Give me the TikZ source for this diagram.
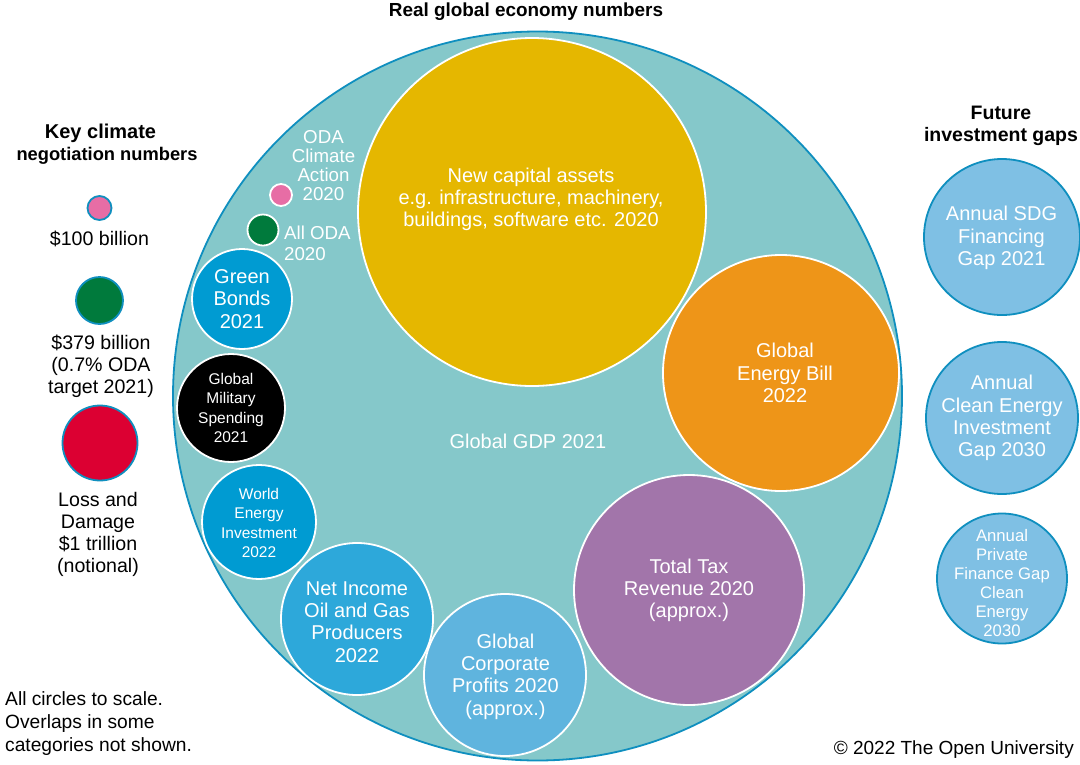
\documentclass[tikz,border=0pt]{standalone}
\usepackage{fontspec}
\setmainfont{Liberation Sans}
\definecolor{rim}{HTML}{0F8FBF}
\definecolor{gdp}{HTML}{85C8CA}
\definecolor{capital}{HTML}{E5B700}
\definecolor{ebill}{HTML}{EE9518}
\definecolor{tax}{HTML}{A275AA}
\definecolor{corp}{HTML}{5FB4DE}
\definecolor{netinc}{HTML}{2DA8DA}
\definecolor{cyanb}{HTML}{009BD2}
\definecolor{gapb}{HTML}{7FC0E4}
\definecolor{pinkc}{HTML}{E76DA5}
\definecolor{greenc}{HTML}{007A3C}
\definecolor{redc}{HTML}{DC0032}
\tikzset{
 x=1pt,y=-1pt,
 bub/.style={circle,inner sep=0pt,align=center,text=white,font=\fontsize{20}{22.3}\selectfont},
 sbub/.style={circle,inner sep=0pt,align=center,text=white,font=\fontsize{15.5}{19.3}\selectfont},
 wr/.style={draw=white,line width=1.8pt},
 bl/.style={draw=rim,line width=1.8pt},
 txt/.style={align=center,text=white,inner sep=0pt,font=\fontsize{20}{22.3}\selectfont},
 lbl/.style={align=center,text=black,inner sep=0pt,font=\fontsize{19.6}{22}\selectfont},
 wlbl/.style={align=center,text=white,inner sep=0pt,font=\fontsize{18.7}{18.8}\selectfont},
 head/.style={align=center,text=black,inner sep=0pt,font=\fontsize{#1}{22}\selectfont\bfseries},
}
\begin{document}
\begin{tikzpicture}
\useasboundingbox (0,0) rectangle (1080,764);
\fill[white] (0,0) rectangle (1080,764);
\node[bub,bl,fill=gdp,minimum size=729pt] (gdpc) at (537.5,396) {};
\node[txt] (gdpl) at (528,441) {Global GDP 2021};
\node[bub,wr,fill=capital,minimum size=348pt] (cap) at (532,212) {};
\node[txt] (capl) at (531,199.5) {New capital assets\\e.g. infrastructure, machinery,\\buildings, software etc. 2020};
\node[bub,wr,fill=ebill,minimum size=236pt] (bill) at (781,373) {};
\node[txt] (billl) at (785,373) {Global\\Energy Bill\\2022};
\node[bub,wr,fill=tax,minimum size=230pt] (taxc) at (689,590) {};
\node[txt] (taxl) at (689,590.5) {Total Tax\\Revenue 2020\\(approx.)};
\node[bub,wr,fill=corp,minimum size=162pt] (corpc) at (505,675) {};
\node[txt] (corpl) at (505.5,676.5) {Global\\Corporate\\Profits 2020\\(approx.)};
\node[bub,wr,fill=netinc,minimum size=152pt] (net) at (357,619) {};
\node[txt] (netl) at (357,622) {Net Income\\Oil and Gas\\Producers\\2022};
\node[sbub,wr,fill=cyanb,minimum size=114pt] (world) at (259,522) {};
\node[txt,font=\fontsize{15.5}{19.3}\selectfont] (worldl) at (259,523) {World\\Energy\\Investment\\2022};
\node[sbub,wr,fill=black,minimum size=108pt] (mil) at (231,408) {Global\\Military\\Spending\\2021};
\node[bub,wr,fill=cyanb,minimum size=100pt] (green) at (242,299) {Green\\Bonds\\2021};
\node[bub,wr,fill=greenc,minimum size=31pt] (oda) at (263,230) {};
\node[bub,wr,fill=pinkc,minimum size=22pt] (odac) at (281,195) {};
\node[wlbl] (odal) at (323.5,165.5) {ODA\\Climate\\Action\\2020};
\node[wlbl,align=left,anchor=west,font=\fontsize{18.7}{21}\selectfont] (alll) at (284,243.5) {All ODA\\2020};
\node[bub,bl,fill=pinkc,minimum size=24pt] (k1) at (99.5,208) {};
\node[bub,bl,fill=greenc,minimum size=47pt] (k2) at (99.5,300.5) {};
\node[bub,bl,fill=redc,minimum size=75pt] (k3) at (100,443) {};
\node[lbl] (k1l) at (99.5,239) {\$100 billion};
\node[lbl] (k2l) at (101,366.5) {\$379 billion\\(0.7\% ODA\\target 2021)};
\node[lbl] (k3l) at (98,534) {Loss and\\Damage\\\$1 trillion\\(notional)};
\node[bub,bl,fill=gapb,minimum size=156pt] (g1) at (1002,237) {};
\node[txt] (g1l) at (1001.5,238) {Annual SDG\\Financing\\Gap 2021};
\node[bub,bl,fill=gapb,minimum size=152pt] (g2) at (1002,418) {Annual\\Clean Energy\\Investment\\Gap 2030};
\node[sbub,bl,fill=gapb,minimum size=130pt] (g3) at (1002,578.5) {};
\node[txt,font=\fontsize{16.7}{19}\selectfont] (g3l) at (1002,583) {Annual\\Private\\Finance Gap\\Clean\\Energy\\2030};
\node[head=18.9] (h1) at (526,12) {Real global economy numbers};
\node[head=18.3] (h2) at (107,144) {{\fontsize{20}{22}\selectfont Key climate}\rule{13pt}{0pt}\\negotiation numbers};
\node[head=19.5] (h3) at (1001,126) {Future\\investment gaps};
\node[lbl,align=left,anchor=west,font=\fontsize{19.2}{23}\selectfont] (note) at (5,724) {All circles to scale.\\Overlaps in some\\categories not shown.};
\node[anchor=east,inner sep=0pt,font=\fontsize{19}{20}\selectfont] (copy) at (1074,750) {© 2022 The Open University};
\end{tikzpicture}
\end{document}
